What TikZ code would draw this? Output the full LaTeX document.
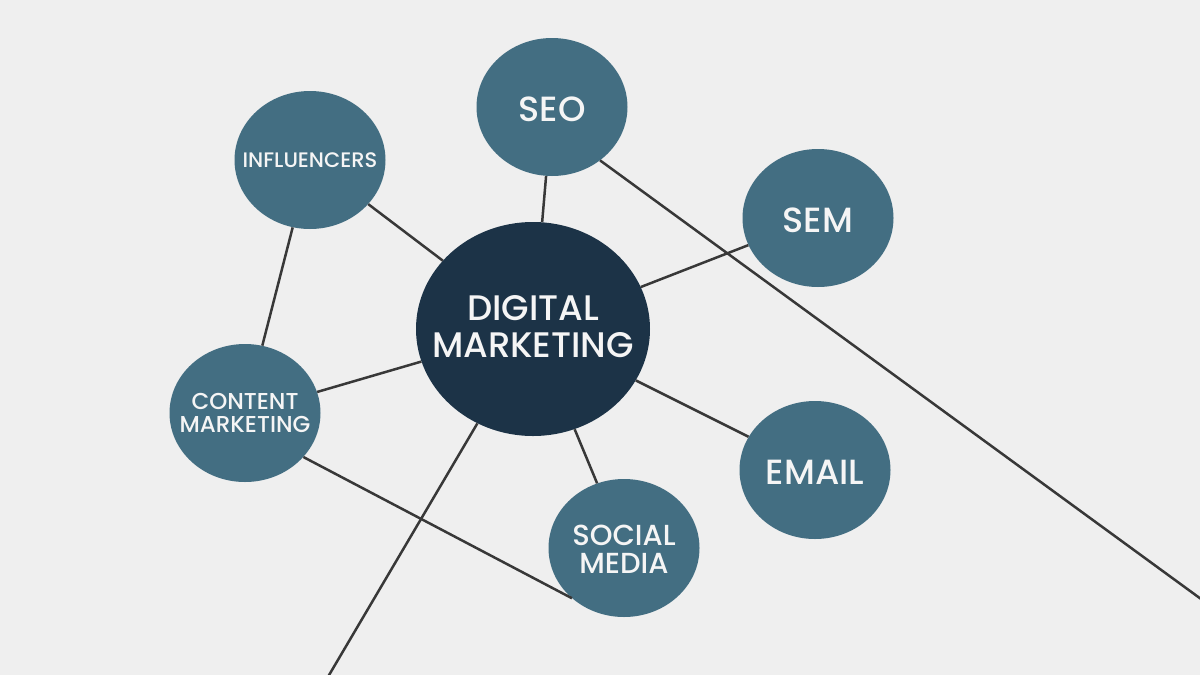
\documentclass[tikz,border=0pt]{standalone}
\usepackage{fontspec}
\setmainfont{Poppins}
\newfontfamily\medfont{Poppins Medium}
\usetikzlibrary{calc,shapes.geometric}

\definecolor{bggray}{HTML}{EFEFEF}
\definecolor{hubblue}{HTML}{1C3347}
\definecolor{topicblue}{HTML}{436E82}
\definecolor{linkgray}{HTML}{383838}

% text of no size, so the ellipse keeps its own size
\newcommand\lbl[2][-0.4em]{\makebox[0pt]{\smash{\raisebox{#1}{\begin{tabular}{@{}c@{}}#2\end{tabular}}}}}

\begin{document}
\begin{tikzpicture}[x=1pt,y=-1pt,
  every node/.style={shape=ellipse,inner sep=0pt,text=white!96!black},
  topic/.style={fill=topicblue,minimum width=151pt,minimum height=138pt},
  hub/.style={fill=hubblue,minimum width=234pt,minimum height=214pt},
  link/.style={draw=linkgray,line width=2.5pt}]
  \useasboundingbox (0,0) rectangle (1200,675);
  \fill[bggray] (0,0) rectangle (1200,675);
  \clip (0,0) rectangle (1200,675);

  \node[hub,font=\medfont\fontsize{35.5}{37}\selectfont] (dm) at (533,329) {\lbl[-0.25em]{DIGITAL\\MARKETING}};
  \node[topic,font=\medfont\fontsize{35}{36}\selectfont] (seo)     at ($(dm)+(19,-222)$)  {\lbl{SEO}};
  \node[topic,font=\medfont\fontsize{21}{22}\selectfont] (infl)    at ($(dm)+(-223,-169)$) {\lbl{INFLUENCERS}};
  \node[topic,font=\medfont\fontsize{35}{36}\selectfont] (sem)     at ($(dm)+(285,-111)$) {\lbl{SEM}};
  \node[topic,font=\medfont\fontsize{23}{22}\selectfont] (content) at ($(dm)+(-288,84)$)  {\lbl{CONTENT\\MARKETING}};
  \node[topic,font=\medfont\fontsize{35}{36}\selectfont] (email)   at ($(dm)+(282,141)$)  {\lbl{EMAIL}};
  \node[topic,font=\medfont\fontsize{29}{26}\selectfont] (social)  at ($(dm)+(91,219)$)   {\lbl{SOCIAL\\MEDIA}};

  \coordinate (edgeR) at (1212,607);
  \coordinate (edgeB) at (322,687);

  \draw[link] (dm) -- (seo);
  \draw[link] (dm) -- (infl);
  \draw[link] (dm) -- (sem);
  \draw[link] (dm) -- (content);
  \draw[link] (dm) -- (email);
  \draw[link] (dm) -- (social);
  \draw[link] (infl) -- (content);
  \draw[link] (content.-37) -- (social.224);
  \draw[link] (seo.-48) -- (edgeR);
  \draw[link] (dm) -- (edgeB);
\end{tikzpicture}
\end{document}
